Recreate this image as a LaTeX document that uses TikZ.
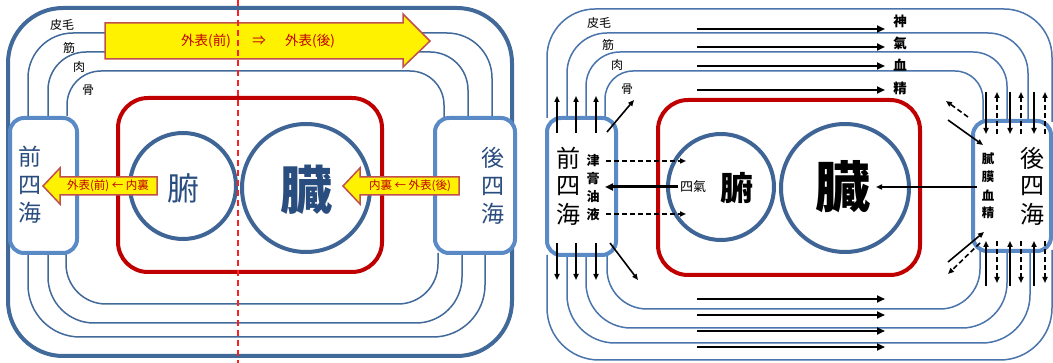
\documentclass[tikz,border=0pt]{standalone}
\usepackage{fontspec}
\setmainfont{Noto Sans CJK JP}
\usetikzlibrary{arrows.meta}
\definecolor{lblue}{RGB}{65,105,154}
\definecolor{boxblue}{RGB}{90,138,198}
\definecolor{cblue}{RGB}{63,101,150}
\definecolor{rblue}{RGB}{74,116,172}
\definecolor{tblue}{RGB}{42,77,127}
\definecolor{dred}{RGB}{192,0,0}
\definecolor{aborder}{RGB}{192,80,77}
\definecolor{dashred}{RGB}{255,30,30}
\tikzset{
  lline/.style={draw=lblue,line width=1.5pt},
  rline/.style={draw=rblue,line width=1.5pt},
  seabox/.style={draw=boxblue,line width=4pt,rounded corners=14pt},
  redbox/.style={draw=dred,line width=4pt,rounded corners=30pt},
  organ/.style={draw=cblue,line width=4pt},
  yarrow/.style={fill=yellow,draw=aborder,line width=1.5pt,line join=miter},
  ltxt/.style={text=tblue,inner sep=0pt},
  rtxt/.style={text=black,inner sep=0pt},
  atxt/.style={text=dred,inner sep=0pt},
  blk/.style={draw=black,line width=2.4pt,-{Triangle[length=8pt,width=7pt]}},
  thin/.style={draw=black,line width=1.6pt,-{Triangle[length=6pt,width=5pt]}},
  dsh/.style={draw=black,line width=1.6pt,dash pattern=on 5pt off 3pt,-{Triangle[length=6pt,width=5pt]}},
}
\begin{document}
\begin{tikzpicture}[x=1pt,y=-1pt]
\useasboundingbox (0,0) rectangle (1053,363);
\fill[white] (0,0) rectangle (1053,363);

% ================= LEFT PANEL =================
\draw[draw=lblue,line width=4pt,rounded corners=55pt] (8,8) rectangle (512,356);
% layer lines
\draw[lline,rounded corners=45pt] (28,116) -- (28,33) -- (492,33) -- (492,118);
\draw[lline,rounded corners=38pt] (48,116) -- (48,52) -- (468,52) -- (468,118);
\draw[lline,rounded corners=34pt] (67,116) -- (67,71) -- (444,71) -- (444,118);
\draw[lline,rounded corners=40pt] (66,253) -- (66,304) -- (438,304) -- (438,253);
\draw[lline,rounded corners=46pt] (48,253) -- (48,323) -- (462,323) -- (462,253);
\draw[lline,rounded corners=52pt] (28,253) -- (28,337) -- (485,337) -- (485,253);
% boxes
\draw[seabox,fill=white] (10,118) rectangle (77,253);
\draw[seabox,fill=white] (435,118) rectangle (515,253);
\draw[redbox] (118,98) rectangle (382,272);
\node[organ,circle,minimum size=106pt] (Lfu) at (183,186) {};
\node[organ,circle,minimum size=128pt] (Lzo) at (306,188) {};
% texts
\node[ltxt,font=\fontsize{32}{32}\selectfont] at (183,188) {腑};
\node[ltxt,font=\fontsize{52}{52}\selectfont\bfseries] at (306,190) {臓};
\foreach \t/\y in {前/157,四/185,海/213} \node[ltxt,font=\fontsize{23}{23}\selectfont] at (30,\y) {\t};
\foreach \t/\y in {後/158,四/186,海/214} \node[ltxt,font=\fontsize{23}{23}\selectfont] at (493,\y) {\t};
\node[inner sep=0pt,font=\fontsize{12}{12}\selectfont] at (62,25) {皮毛};
\node[inner sep=0pt,font=\fontsize{12}{12}\selectfont] at (69,48) {筋};
\node[inner sep=0pt,font=\fontsize{12}{12}\selectfont] at (79,67) {肉};
\node[inner sep=0pt,font=\fontsize{12}{12}\selectfont] at (88,90) {骨};
% yellow arrows
\draw[yarrow] (105,23) -- (403,23) -- (403,14) -- (430,41) -- (403,67) -- (403,59) -- (105,59) -- cycle;
\node[atxt,font=\fontsize{13.5}{14}\selectfont] at (206,41) {外表(前)};
\node[atxt,font=\fontsize{13.5}{14}\selectfont] at (259,41) {⇒};
\node[atxt,font=\fontsize{13.5}{14}\selectfont] at (310,41) {外表(後)};
\draw[yarrow] (43,186) -- (60,168) -- (60,177) -- (157,177) -- (157,195) -- (60,195) -- (60,204) -- cycle;
\node[atxt,font=\fontsize{11.5}{12}\selectfont] at (108,186) {外表(前) ← 内裏};
\draw[yarrow] (343,186) -- (360,168) -- (360,177) -- (459,177) -- (459,195) -- (360,195) -- (360,204) -- cycle;
\node[atxt,font=\fontsize{11.5}{12}\selectfont] at (410,186) {内裏 ← 外表(後)};
% dashed axis
\draw[dashred,line width=1.5pt,dash pattern=on 6pt off 4pt] (238,0) -- (238,363);

% ================= RIGHT PANEL =================
\draw[rline,rounded corners=48pt] (547,118) -- (547,9) -- (1052,9) -- (1052,122);
\draw[rline,rounded corners=40pt] (567,118) -- (567,33) -- (1028,33) -- (1028,122);
\draw[rline,rounded corners=34pt] (586,118) -- (586,52) -- (1007,52) -- (1007,122);
\draw[rline,rounded corners=28pt] (605,118) -- (605,71) -- (983,71) -- (983,122);
\draw[rline,rounded corners=40pt] (607,255) -- (607,309) -- (980,309) -- (980,250);
\draw[rline,rounded corners=45pt] (586,255) -- (586,328) -- (1007,328) -- (1007,250);
\draw[rline,rounded corners=48pt] (567,255) -- (567,343) -- (1030,343) -- (1030,250);
\draw[rline,rounded corners=52pt] (547,255) -- (547,360) -- (1052,360) -- (1052,250);
\draw[seabox,fill=white] (547,118) rectangle (616,255);
\draw[seabox,fill=white] (973,121) rectangle (1051,251);
\draw[redbox] (658,100) rectangle (920,275);
\node[organ,circle,minimum size=106pt] (Rfu) at (721,187) {};
\node[organ,circle,minimum size=128pt] (Rzo) at (845,188) {};
\node[rtxt,font=\fontsize{33}{33}\selectfont\bfseries] at (737,188) {腑};
\node[rtxt,font=\fontsize{55}{55}\selectfont\bfseries] at (843,187) {臓};
\node[rtxt,font=\fontsize{13}{13}\selectfont] (siqi) at (693,187) {四氣};
\foreach \t/\y in {前/158,四/186,海/214} \node[rtxt,font=\fontsize{24}{24}\selectfont] at (568,\y) {\t};
\foreach \t/\y in {後/158,四/186,海/214} \node[rtxt,font=\fontsize{24}{24}\selectfont] at (1032,\y) {\t};
\foreach \t/\y in {津/161,膏/179,油/197,液/215} \node[rtxt,font=\fontsize{13}{13}\selectfont\bfseries] at (593,\y) {\t};
\foreach \t/\y in {膩/159,膜/177,血/195,精/213} \node[rtxt,font=\fontsize{12.5}{13}\selectfont\bfseries] at (988,\y) {\t};
\node[rtxt,font=\fontsize{12}{12}\selectfont] at (599,23) {皮毛};
\node[rtxt,font=\fontsize{12}{12}\selectfont] at (608,45) {筋};
\node[rtxt,font=\fontsize{12}{12}\selectfont] at (617,65) {肉};
\node[rtxt,font=\fontsize{12}{12}\selectfont] at (627,89) {骨};
\foreach \t/\y in {神/21,氣/43,血/65,精/88} \node[rtxt,font=\fontsize{13.5}{14}\selectfont\bfseries] at (900,\y) {\t};
% horizontal flows
\foreach \y in {29,47,66,90,299,315,331,347} \draw[blk] (697,\y) -- (885,\y);
% left sea arrows
\foreach \x in {557,576,596} {\draw[thin] (\x,133) -- (\x,96); \draw[thin] (\x,243) -- (\x,280);}
\draw[thin] (607,132) -- (634,100);
\draw[thin] (610,243) -- (638,280);
\draw[dsh] (606,161) -- (686,161);
\draw[dsh] (606,214) -- (686,214);
\draw[blk,line width=3pt] (678,187) -- (605,187);
% right sea arrows
\draw[thin] (977,187) -- (876,187);
\foreach \x in {986,1010,1034} {\draw[thin] (\x,92) -- (\x,134); \draw[thin] (\x,286) -- (\x,241);}
\foreach \x in {997,1021,1045} {\draw[dsh] (\x,134) -- (\x,92); \draw[dsh] (\x,241) -- (\x,283);}
\draw[thin] (948,120) -- (983,145);
\draw[dsh] (968,117) -- (946,101);
\draw[thin] (948,262) -- (984,232);
\draw[dsh] (980,243) -- (948,274);
\end{tikzpicture}
\end{document}
